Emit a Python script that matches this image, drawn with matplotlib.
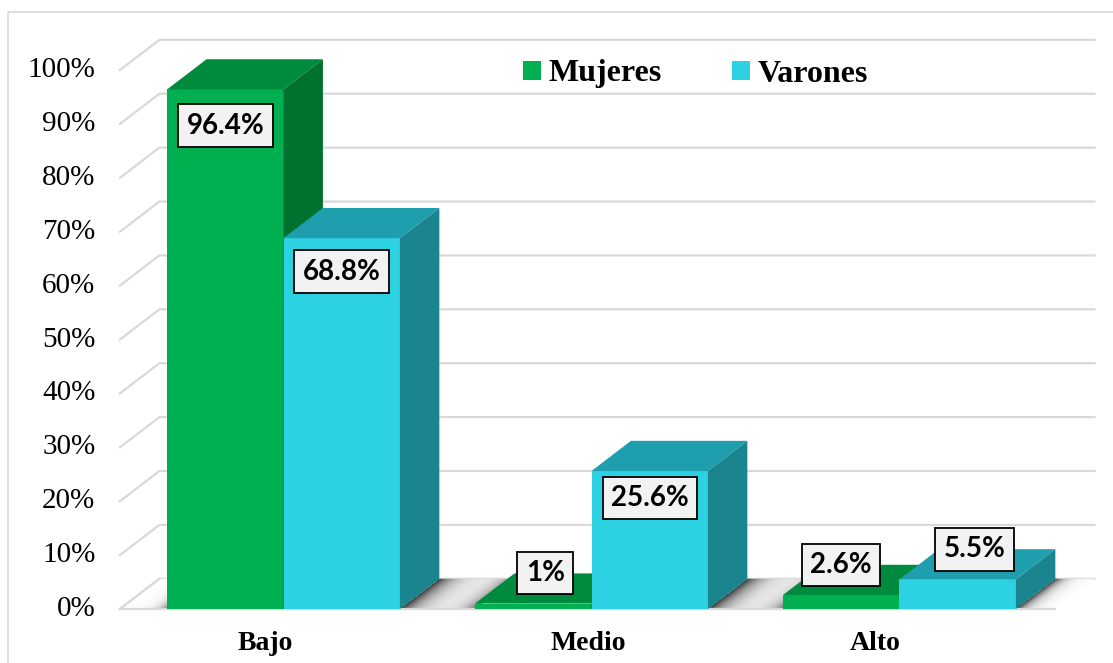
import numpy as np
import matplotlib.pyplot as plt
from matplotlib.patches import Polygon

# Datos del gráfico
categorias = ['Bajo', 'Medio', 'Alto']
series = ['Mujeres', 'Varones']
mujeres = [96.4, 1.0, 2.6]
varones = [68.8, 25.6, 5.5]
ticks_y = [0, 10, 20, 30, 40, 50, 60, 70, 80, 90, 100]

# Colores: frente, techo y lado de cada serie
colores = {
    'Mujeres': ('#00B050', '#008A3E', '#00722F'),
    'Varones': ('#2CD1E2', '#1F9FAD', '#1B858F'),
}

# Geometría del falso 3D (en unidades de datos)
ancho = 0.378       # ancho de cada barra
prof_x = 0.128      # desplazamiento horizontal de la profundidad
prof_y = 5.6        # desplazamiento vertical de la profundidad (en %)
suelo_izq = -0.531
suelo_der = 2.505
gris = '#D9D9D9'

# Desplazamiento de las etiquetas respecto al centro superior del frente (puntos)
desp_etiquetas = {
    'Mujeres': [(0, -26), (8.6, 22), (0, 21.6)],
    'Varones': [(0, -24), (0, -19.5), (12, 21.6)],
}
# Pequeño ajuste horizontal de los nombres de categoría (perspectiva)
ajuste_cat = [-0.06, -0.01, -0.08]

fig = plt.figure(figsize=(11.13, 6.63), dpi=100)
ax = fig.add_axes([0, 0, 1, 1])
ax.set_xlim(-0.9205, 2.6932)
ax.set_ylim(-10.02, 112.99)
ax.axis('off')

# Marco del área del gráfico
ax.plot([-0.9205 + 8 / 308, -0.9205 + 8 / 308, 2.7],
        [-11, 112.99 - 12 / 5.39, 112.99 - 12 / 5.39],
        color=gris, lw=1.2, zorder=1)

# Líneas de la cuadrícula: pared del fondo y pared lateral
for v in ticks_y:
    ax.plot([suelo_izq, suelo_izq + prof_x, suelo_der + prof_x],
            [v, v + prof_y, v + prof_y], color=gris, lw=1.6, zorder=2)
    ax.text(suelo_izq - 0.08, v, f'{v}%', ha='right', va='center',
            fontsize=21, family='Liberation Serif', color='black')

# Suelo con degradado (sombras de las barras)
nx, ny = 1600, 30
xs = np.linspace(suelo_izq, suelo_der + prof_x, nx)
ys = np.linspace(0, prof_y, ny)
X, Y = np.meshgrid(xs, ys)
U = X - Y / prof_y * prof_x
bordes = [suelo_izq]
for i in range(len(categorias)):
    bordes += [i - ancho, i + ancho]
bordes.append(suelo_der)
intensidad = np.ones_like(U)
for k in range(0, len(bordes), 2):
    a, b = bordes[k], bordes[k + 1]
    t = np.clip((U - a) / (b - a), 0, 1)
    dentro = (U >= a) & (U <= b)
    val = np.ones_like(U)
    if k > 0:
        val -= 0.8 * np.exp(-t / 0.22)
    if k < len(bordes) - 2:
        val -= 0.6 * np.exp(-(1 - t) / 0.16)
    intensidad[dentro] = np.clip(val, 0, 1)[dentro]
img = ax.imshow(intensidad, extent=(xs[0], xs[-1], 0, prof_y), origin='lower',
                cmap='gray', vmin=0, vmax=1, aspect='auto', zorder=3,
                interpolation='bilinear')
suelo = Polygon([(suelo_izq, 0), (suelo_der, 0), (suelo_der + prof_x, prof_y),
                 (suelo_izq + prof_x, prof_y)], closed=True, facecolor='none',
                edgecolor='none', transform=ax.transData)
ax.add_patch(suelo)
img.set_clip_path(suelo)
ax.plot([suelo_izq, suelo_der], [0, 0], color=gris, lw=1.6, zorder=3)
ax.plot([suelo_izq, suelo_izq + prof_x], [0, prof_y], color=gris, lw=1.6, zorder=3)


def barra_3d(x0, alto, nombre, z):
    frente, techo, lado = colores[nombre]
    x1 = x0 + ancho
    ax.add_patch(Polygon([(x0, 0), (x1, 0), (x1, alto), (x0, alto)],
                         facecolor=frente, edgecolor='none', zorder=z))
    ax.add_patch(Polygon([(x0, alto), (x1, alto), (x1 + prof_x, alto + prof_y),
                          (x0 + prof_x, alto + prof_y)],
                         facecolor=techo, edgecolor='none', zorder=z))
    ax.add_patch(Polygon([(x1, 0), (x1 + prof_x, prof_y),
                          (x1 + prof_x, alto + prof_y), (x1, alto)],
                         facecolor=lado, edgecolor='none', zorder=z))


z = 4
for i, cat in enumerate(categorias):
    barra_3d(i - ancho, mujeres[i], 'Mujeres', z)
    z += 1
    barra_3d(i, varones[i], 'Varones', z)
    z += 1

# Etiquetas de datos
for nombre, valores, x_off in [('Mujeres', mujeres, -ancho / 2), ('Varones', varones, ancho / 2)]:
    for i, v in enumerate(valores):
        dx, dy = desp_etiquetas[nombre][i]
        ax.annotate(f'{v:g}%', xy=(i + x_off, v), xytext=(dx, dy),
                    textcoords='offset points', ha='center', va='center',
                    fontsize=20, fontweight='bold', family='Lato', color='black',
                    zorder=20,
                    bbox=dict(boxstyle='square,pad=0.3', facecolor='#F2F2F2',
                              edgecolor='black', lw=1.3))

# Etiquetas de categorías
for i, cat in enumerate(categorias):
    ax.text(i + ajuste_cat[i], -6.4, cat, ha='center', va='center', fontsize=20,
            fontweight='bold', family='Liberation Serif', color='black')

# Leyenda
handles = [Polygon([(0, 0)], facecolor=colores[s][0]) for s in series]
ax.legend(handles, series, loc='center left', bbox_to_anchor=(523 / 1113, 1 - 74 / 663),
          ncol=2, frameon=False, borderpad=0, borderaxespad=0,
          handlelength=0.55, handleheight=0.55, handletextpad=0.25,
          columnspacing=2.2,
          prop={'family': 'Liberation Serif', 'weight': 'bold', 'size': 23})

plt.savefig('out.png', dpi=100)
